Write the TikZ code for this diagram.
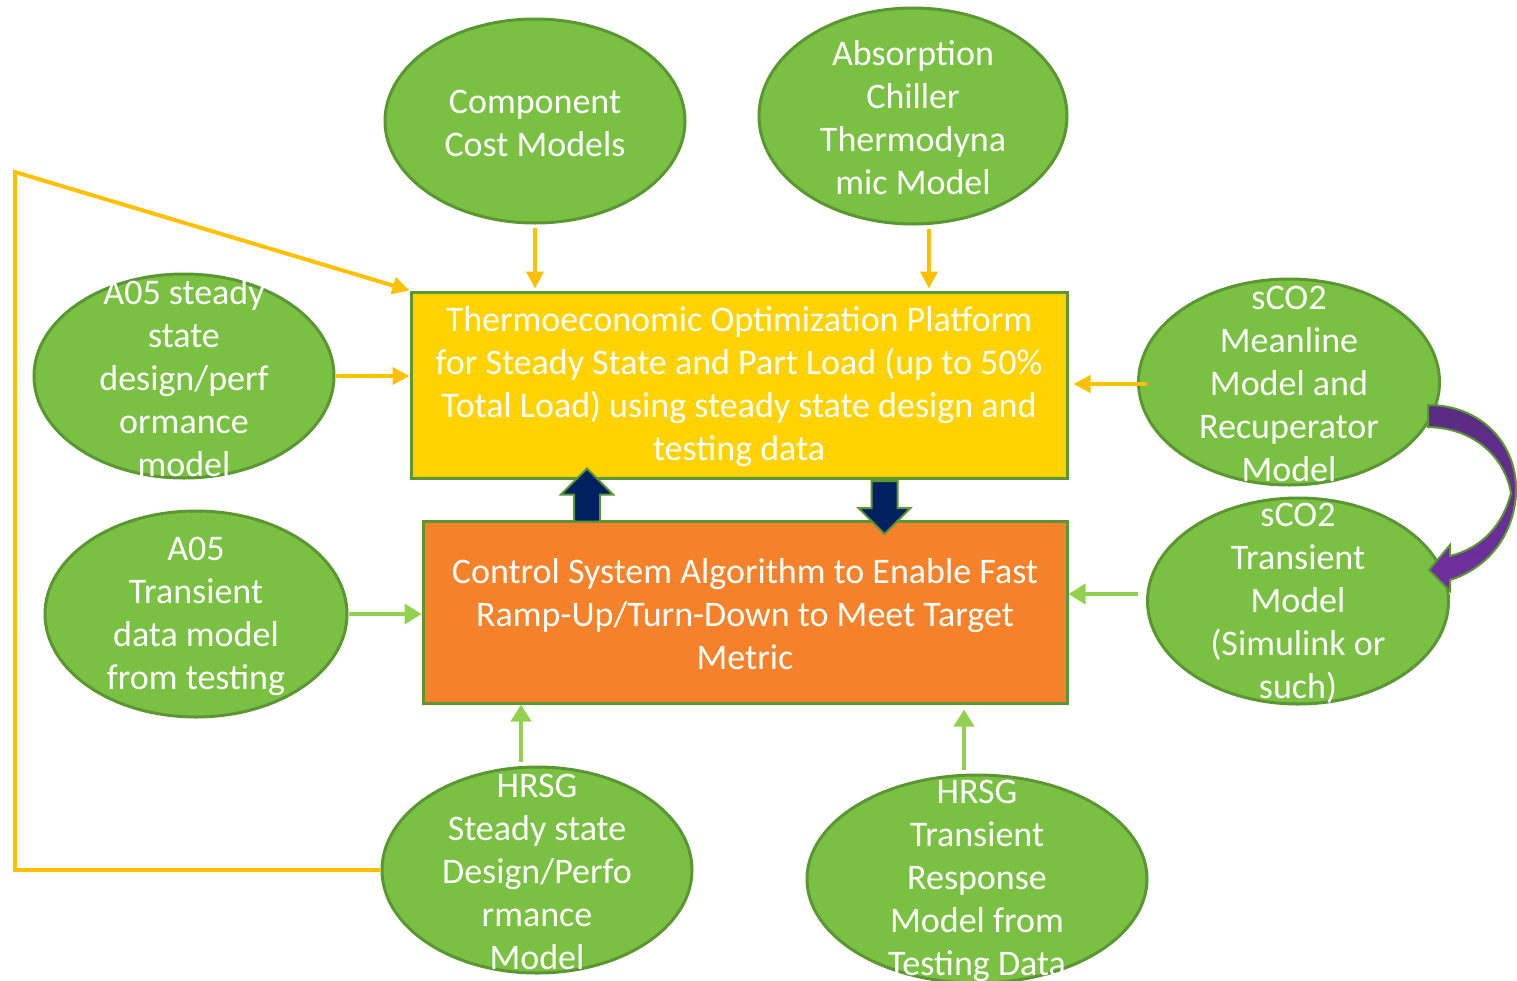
\documentclass[tikz,border=0pt]{standalone}
\usepackage{fontspec}
\setmainfont{Carlito}
\usetikzlibrary{arrows.meta,shapes.geometric,shapes.arrows}
\definecolor{leaf}{HTML}{7AC143}
\definecolor{leafedge}{HTML}{5B9632}
\definecolor{platyellow}{HTML}{FFD200}
\definecolor{ctrlorange}{HTML}{F5822A}
\definecolor{goldline}{HTML}{FFC000}
\definecolor{limeline}{HTML}{92D050}
\definecolor{navyblk}{HTML}{002060}
\definecolor{violetA}{HTML}{5A2C82}
\definecolor{violetB}{HTML}{7030A0}
\tikzset{
  blob/.style={ellipse, fill=leaf, draw=leafedge, line width=3pt, inner sep=0pt},
  blobtext/.style={text=white, align=center, font=\fontsize{36}{43}\selectfont, yshift=-2pt},
  bigbox/.style={rectangle, draw=leafedge, line width=3pt, inner sep=0pt},
  boxtext/.style={text=white, align=center, font=\fontsize{36}{43}\selectfont, yshift=-2pt},
  goldarrow/.style={draw=goldline, line width=4pt, -{Triangle[length=17pt,width=17pt]}},
  limearrow/.style={draw=limeline, line width=4pt, -{Triangle[length=17pt,width=20pt]}},
  blockarrow/.style={single arrow, fill=navyblk, draw=leafedge, line width=2pt, inner xsep=0pt, inner ysep=12pt, minimum height=53, single arrow head extend=13}
}
\begin{document}
\begin{tikzpicture}[x=1pt,y=-1pt]
    \useasboundingbox (0,0) rectangle (1517,980);
    \node[blob, minimum width=300, minimum height=204] (cost) at (535,121) {};
    \node[blob, minimum width=308, minimum height=216] (chiller) at (913,116) {};
    \node[blob, minimum width=300, minimum height=204] (a05s) at (184,376) {};
    \node[blob, minimum width=302, minimum height=206] (a05t) at (196,614) {};
    \node[blob, minimum width=301, minimum height=206] (mean) at (1289,382) {};
    \node[blob, minimum width=301, minimum height=206] (sco2t) at (1298,601) {};
    \node[blob, minimum width=310, minimum height=206] (hrsgs) at (537,870) {};
    \node[blob, minimum width=340, minimum height=208] (hrsgt) at (977,879) {};
    \node[blobtext] (costtxt) at (cost) {Component\\Cost Models};
    \node[blobtext] (chillertxt) at (chiller) {Absorption\\Chiller\\Thermodyna\\mic Model};
    \node[blobtext] (a05stxt) at (a05s) {A05 steady\\state\\design/perf\\ormance\\model};
    \node[blobtext] (a05ttxt) at (a05t) {A05\\Transient\\data model\\from testing};
    \node[blobtext] (meantxt) at (mean) {sCO2\\Meanline\\Model and\\Recuperator\\Model};
    \node[blobtext] (sco2ttxt) at (sco2t) {sCO2\\Transient\\Model\\(Simulink or\\such)};
    \node[blobtext] (hrsgstxt) at (hrsgs) {HRSG\\Steady state\\Design/Perfo\\rmance\\Model};
    \node[blobtext] (hrsgttxt) at (hrsgt) {HRSG\\Transient\\Response\\Model from\\Testing Data};
    \node[bigbox, fill=platyellow, minimum width=656, minimum height=186] (plat) at (739,385) {};
    \node[bigbox, fill=ctrlorange, minimum width=644, minimum height=182] (ctrl) at (745,612) {};
    \node[boxtext] (plattxt) at (plat) {Thermoeconomic Optimization Platform\\for Steady State and Part Load (up to 50\%\\Total Load) using steady state design and\\testing data};
    \node[boxtext] (ctrltxt) at (ctrl) {Control System Algorithm to Enable Fast\\Ramp-Up/Turn-Down to Meet Target\\Metric};
    \node[blockarrow, rotate=90] (upblk) at (587,501.5) {};
    \node[blockarrow, rotate=-90] (downblk) at (884.5,501) {};
    \draw[goldarrow, shorten >=2pt] ([yshift=-3pt]cost.south) -- (cost.south |- plat.north);
    \draw[goldarrow, shorten >=2pt] ([xshift=16pt,yshift=-3pt]chiller.south) -- ([xshift=16pt]chiller.south |- plat.north);
    \draw[goldarrow] (a05s.east) -- (a05s.east -| plat.west);
    \draw[goldarrow, shorten >=5pt] ([yshift=-2pt,xshift=10pt]mean.west) -- ([yshift=-2pt]mean.west -| plat.east);
    \coordinate (bend) at (15,172);
    \draw[goldarrow, line join=miter] (hrsgs.west) -| (bend) -- (plat.north west);
    \draw[limearrow] (a05t.east) -- (a05t.east -| ctrl.west);
    \draw[limearrow] ([yshift=7pt,xshift=-8pt]sco2t.west) -- ([yshift=7pt]sco2t.west -| ctrl.east);
    \draw[limearrow] ([xshift=-16pt,yshift=4pt]hrsgs.north) -- ([xshift=-16pt]hrsgs.north |- ctrl.south);
    \draw[limearrow, shorten >=5pt] ([xshift=-13pt,yshift=4pt]hrsgt.north) -- ([xshift=-13pt]hrsgt.north |- ctrl.south);
    \draw[draw=leafedge, line width=2pt, top color=violetA, bottom color=violetB]
        (1428,405) .. controls (1482,405) and (1518,445) .. (1516,493)
        .. controls (1514,535) and (1488,568) .. (1450,580)
        -- (1450,591) -- (1429,570) -- (1450,545) -- (1450,556)
        .. controls (1482,548) and (1503,525) .. (1511,493)
        .. controls (1505,458) and (1475,428) .. (1428,427) -- cycle;
\end{tikzpicture}
\end{document}
